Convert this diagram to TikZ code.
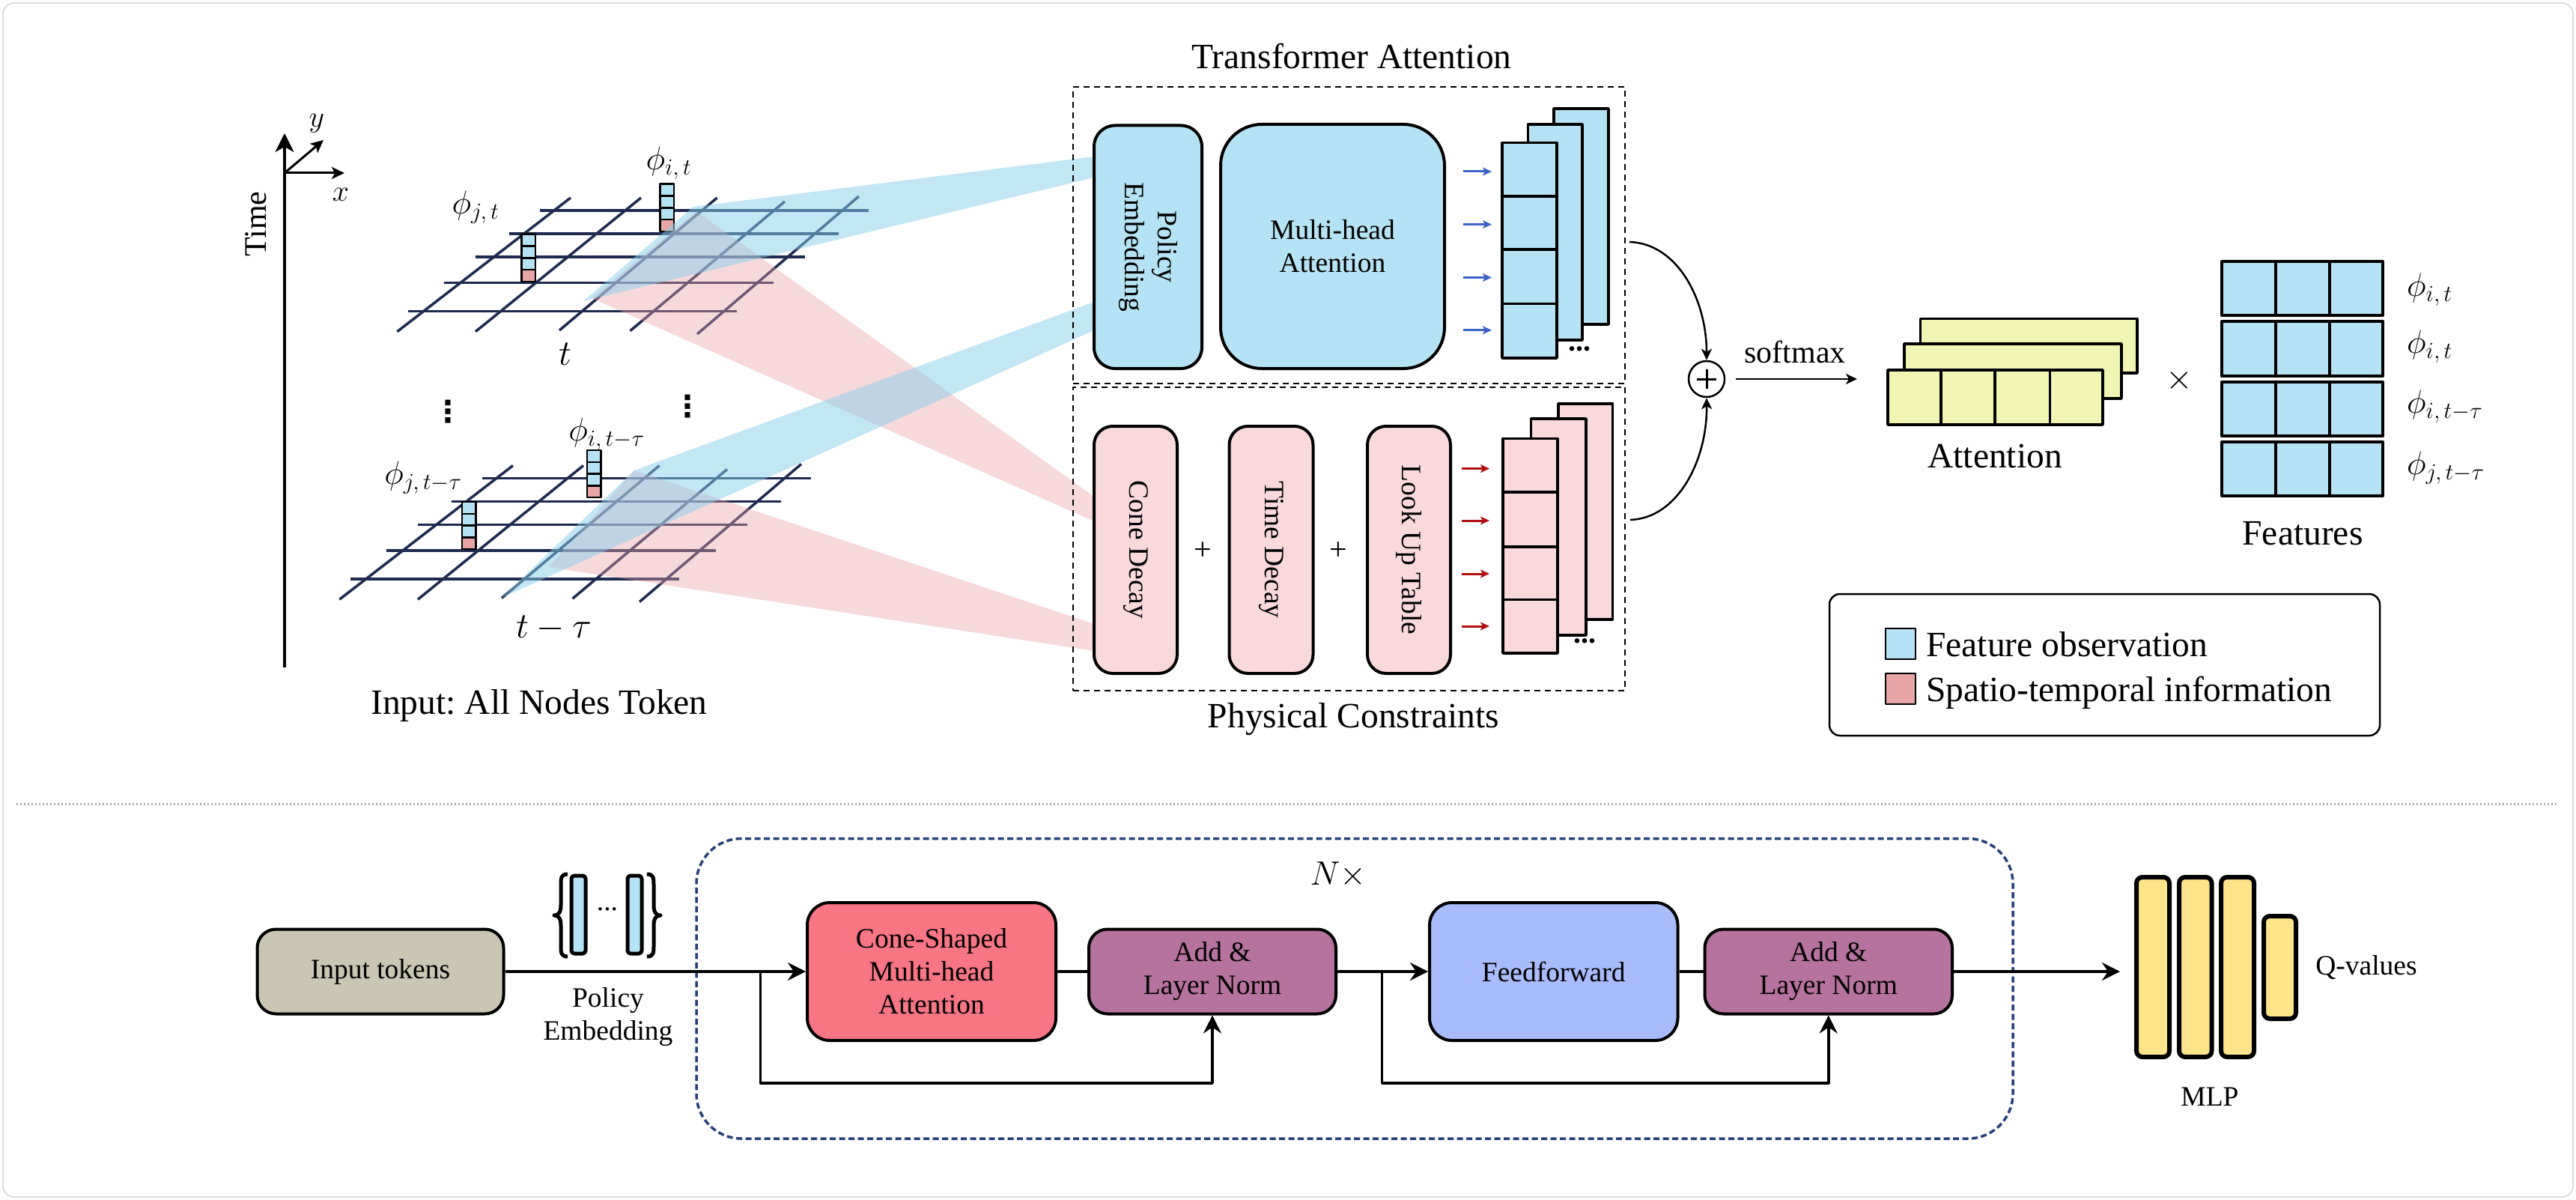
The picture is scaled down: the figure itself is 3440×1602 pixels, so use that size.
\RequirePackage{fix-cm}
\documentclass[tikz,border=0pt]{standalone}
\usepackage{fontspec}
\setmainfont{Liberation Serif}
\newfontfamily\djv{DejaVu Sans}
\usetikzlibrary{arrows.meta,calc}
\definecolor{lblue}{RGB}{181,226,244}
\definecolor{lpink}{RGB}{250,217,221}
\definecolor{tokred}{RGB}{232,165,165}
\definecolor{gridnavy}{RGB}{31,42,80}
\definecolor{attyel}{RGB}{240,245,180}
\definecolor{inpgray}{RGB}{201,199,179}
\definecolor{conered}{RGB}{248,117,131}
\definecolor{addpur}{RGB}{183,115,159}
\definecolor{ffblue}{RGB}{168,187,251}
\definecolor{mlpyel}{RGB}{253,227,138}
\definecolor{nxblue}{RGB}{39,64,122}
\definecolor{arrblue}{RGB}{59,99,199}
\definecolor{arrred}{RGB}{176,16,16}
\definecolor{beamblue}{RGB}{135,206,235}
\definecolor{beampink}{RGB}{234,160,168}
\definecolor{framegray}{RGB}{222,222,222}
\definecolor{sepgray}{RGB}{170,170,170}
\frenchspacing
\tikzset{
 txtL/.style={font=\fontsize{47.5pt}{56pt}\selectfont},
 txtM/.style={font=\fontsize{37.5pt}{44pt}\selectfont},
 txtS/.style={font=\fontsize{42pt}{50pt}\selectfont},
 mathlbl/.style={font=\fontsize{44pt}{50pt}\selectfont, inner sep=0pt},
 rbox/.style={draw, line width=4pt, inner sep=0pt, align=center, txtM},
 dbox/.style={draw, line width=2pt, dash pattern=on 8pt off 6pt, inner sep=0pt},
 gridl/.style={draw=gridnavy, line width=3.5pt},
 tokcell/.style={draw, line width=2.5pt},
 pline/.style={draw, line width=3.5pt},
 bigtip/.tip={Stealth[length=24pt,width=24pt,inset=8pt]},
 smtip/.tip={Stealth[length=15pt,width=14pt,inset=4pt]},
 axtip/.tip={Stealth[length=17pt,width=16pt,inset=4pt]},
 mainl/.style={line width=4pt},
 skipl/.style={line width=3.5pt},
 beamb/.style={fill=beamblue, fill opacity=.5},
 beamp/.style={fill=beampink, fill opacity=.4},
 mlpbar/.style={draw, line width=6pt, fill=mlpyel, rounded corners=8pt, inner sep=0pt},
 vdotl/.style={font=\fontsize{40pt}{44pt}\selectfont\djv\bfseries, inner sep=0pt},
}
\newcommand\mygrid{%
 \draw[gridl] (721,281) -- (1160,281);
 \draw[gridl] (680,312) -- (1120,312);
 \draw[gridl] (635,343) -- (1074.5,343);
 \draw[gridl] (593,377.3) -- (1032.6,377.3);
 \draw[gridl] (544.6,415.7) -- (983.5,415.7);
 \draw[gridl] (530.4,442.7) -- (762,264);
 \draw[gridl] (635,442.7) -- (856,264);
 \draw[gridl] (747,441) -- (957.6,264);
 \draw[gridl] (841.5,441.7) -- (1048,269);
 \draw[gridl] (931,446) -- (1147,262);}
\newcommand\mytok[2]{%
 \foreach \k in {0,1,2}{\draw[tokcell, fill=lblue] (#1,#2+\k*15.8) rectangle ++(18.5,15.8);}
 \draw[tokcell, fill=tokred] (#1,#2+47.4) rectangle ++(18.5,15.8);}
\begin{document}
\begin{tikzpicture}[x=1pt,y=-1pt,line join=round]
\useasboundingbox (0,0) rectangle (3440,1602);
\draw[framegray, line width=2pt, rounded corners=15pt] (4,4) rectangle (3436,1598);

% ---------- axes ----------
\coordinate (ax0) at (380,231);
\coordinate (axT) at (380,178);
\coordinate (axB) at (380,891);
\coordinate (axX) at (460,231);
\coordinate (axY) at (432,187);
\draw[line width=3.5pt, -{Stealth[length=25pt,width=25pt,inset=7pt]}] (axB) -- (axT);
\draw[line width=3pt, -axtip] (ax0) -- (axX);
\draw[line width=3pt, -axtip] (ax0) -- (axY);
\node[txtS, rotate=90] (timel) at (342,299) {Time};
\node[mathlbl, font=\fontsize{40pt}{50pt}\selectfont] (ylab) at (423,165) {$y$};
\node[mathlbl, font=\fontsize{40pt}{50pt}\selectfont] (xlab) at (455,260) {$x$};

% ---------- grids ----------
\mygrid
\mytok{696.4}{312.7}
\mytok{881.7}{245.7}
\begin{scope}[shift={(-77,357.5)}]
\mygrid
\end{scope}
\mytok{617}{670}
\mytok{784}{601}

% ---------- beams ----------
\fill[beamp] (790,398) -- (930,282) -- (1461,663) -- (1461,696) -- cycle;
\fill[beamp] (732,757) -- (847,628) -- (1461,833) -- (1461,869) -- cycle;
\fill[beamb] (779,402) -- (926,276) -- (1461,209) -- (1461,237) -- cycle;
\fill[beamb] (670,798) -- (847,628) -- (1461,403) -- (1461,441) -- cycle;

% ---------- grid labels ----------
\node[mathlbl] (pjt) at (635,277) {$\phi_{j,\,t}$};
\node[mathlbl] (pit) at (893,218) {$\phi_{i,\,t}$};
\node[mathlbl, font=\fontsize{48pt}{56pt}\selectfont] (tl) at (755,473) {$t$};
\node[vdotl] (vd1) at (598,550) {⋮};
\node[vdotl] (vd2) at (918,543) {⋮};
\node[mathlbl] (pjtt) at (565,638) {$\phi_{j,\,t-\tau}$};
\node[mathlbl] (pitt) at (810,580) {$\phi_{i,\,t-\tau}$};
\node[mathlbl, font=\fontsize{48pt}{56pt}\selectfont] (ttl) at (740,839) {$t-\tau$};
\node[txtL] (inpl) at (720,942) {Input: All Nodes Token};

% ---------- transformer attention ----------
\node[dbox, minimum width=737pt, minimum height=396pt] (ta) at (1801.5,314) {};
\node[dbox, minimum width=737pt, minimum height=405.5pt] (pc) at (1801.5,719.25) {};
\node[txtL] (tatitle) at (1805,75) {Transformer Attention};
\node[txtL] (pctitle) at (1807.5,960) {Physical Constraints};

\node[rbox, fill=lblue, rounded corners=28pt, minimum width=144pt, minimum height=324.5pt] (pe) at (1533,329.75) {};
\node[txtM, rotate=-90, align=center] (pel) at (pe.center) {Policy\\Embedding};
\node[rbox, fill=lblue, rounded corners=55pt, minimum width=299pt, minimum height=326pt] (mha) at (1779.5,329) {Multi-head\\Attention};

\draw[pline, fill=lblue] (2075,145) rectangle (2148,433);
\draw[pline, fill=lblue] (2040.5,166) rectangle (2113,454);
\draw[pline, fill=lblue] (2006,190.5) rectangle (2079,478);
\foreach \yy in {262,333,405.6} \draw[pline] (2006,\yy) -- (2079,\yy);
\foreach \yy in {229,299.6,370.5,440.8}
  \draw[arrblue, line width=3pt, -{Stealth[length=12pt,width=11pt,inset=3pt]}] (1954,\yy) -- (1992,\yy);
\node[txtM, font=\fontsize{40pt}{44pt}\selectfont\bfseries] (bdots) at (2109,466) {...};

\node[rbox, fill=lpink, rounded corners=25pt, minimum width=111pt, minimum height=330pt] (cone) at (1516.5,734) {};
\node[txtM, rotate=-90] (conel) at (cone.center) {Cone Decay};
\node[rbox, fill=lpink, rounded corners=25pt, minimum width=112pt, minimum height=330pt] (tdec) at (1697.5,734) {};
\node[txtM, rotate=-90] (tdecl) at (tdec.center) {Time Decay};
\node[rbox, fill=lpink, rounded corners=25pt, minimum width=111pt, minimum height=330pt] (lut) at (1881.5,734) {};
\node[txtM, rotate=-90] (lutl) at (lut.center) {Look Up Table};
\node[txtS] (plus1) at (1606.6,736) {+};
\node[txtS] (plus2) at (1787,736) {+};

\draw[pline, fill=lpink] (2081,539) rectangle (2153.6,827);
\draw[pline, fill=lpink] (2044.5,559) rectangle (2118,848);
\draw[pline, fill=lpink] (2007,585.6) rectangle (2080,872);
\foreach \yy in {657,730,800.7} \draw[pline] (2007,\yy) -- (2080,\yy);
\foreach \yy in {625.6,695,766,836}
  \draw[arrred, line width=3pt, -{Stealth[length=12pt,width=11pt,inset=3pt]}] (1951.5,\yy) -- (1989,\yy);
\node[txtM, font=\fontsize{40pt}{44pt}\selectfont\bfseries] (pdots) at (2116,856) {...};

% ---------- combine ----------
\node[circle, draw, line width=2.5pt, minimum size=48pt, inner sep=0pt] (oplus) at (2279,506) {};
\draw[line width=3pt] ($(oplus.center)+(-13,0)$) -- ($(oplus.center)+(13,0)$);
\draw[line width=3pt] ($(oplus.center)+(0,-13)$) -- ($(oplus.center)+(0,13)$);
\coordinate (c1) at (2176,323);
\coordinate (c2) at (2177,694);
\draw[line width=2.5pt, -smtip] (c1) .. controls (2240,325) and (2279,400) .. (oplus.north);
\draw[line width=2.5pt, -smtip] (c2) .. controls (2240,692) and (2280,615) .. (oplus.south);
\coordinate (smend) at (2480,506);
\draw[line width=2.5pt, -smtip, shorten <=14pt] (oplus.east) -- (smend);
\node[txtS] (smx) at (2397,470) {softmax};

% ---------- attention stack ----------
\draw[pline, fill=attyel] (2564.5,425.5) rectangle (2854,498);
\draw[pline, fill=attyel] (2543,459) rectangle (2833,532);
\draw[pline, fill=attyel] (2521,494) rectangle (2808,567);
\foreach \xx in {2592,2664,2737.5} \draw[pline] (\xx,494) -- (\xx,567);
\node[txtL] (attl) at (2664,609) {Attention};
\node[mathlbl, font=\fontsize{46pt}{50pt}\selectfont] (times) at (2910,508) {$\times$};

% ---------- features ----------
\foreach \ya/\yb in {349/421,429/502,510/582,590/662}{
  \draw[line width=4pt, fill=lblue] (2967,\ya) rectangle (3182,\yb);
  \draw[line width=4pt] (3039,\ya) -- (3039,\yb);
  \draw[line width=4pt] (3111,\ya) -- (3111,\yb);
}
\node[mathlbl, anchor=west] (f1) at (3214,387) {$\phi_{i,\,t}$};
\node[mathlbl, anchor=west] (f2) at (3214,463) {$\phi_{i,\,t}$};
\node[mathlbl, anchor=west] (f3) at (3214,543) {$\phi_{i,\,t-\tau}$};
\node[mathlbl, anchor=west] (f4) at (3214,625) {$\phi_{j,\,t-\tau}$};
\node[txtL] (featl) at (3075,712) {Features};

% ---------- legend ----------
\node[draw, line width=2.5pt, rounded corners=14pt, minimum width=735pt, minimum height=189pt, inner sep=0pt] (leg) at (2810.5,887.5) {};
\node[draw, line width=2.5pt, fill=lblue, minimum width=40pt, minimum height=41pt, inner sep=0pt] (sw1) at (2538,859.5) {};
\node[draw, line width=2.5pt, fill=tokred, minimum width=40pt, minimum height=41pt, inner sep=0pt] (sw2) at (2538,919.5) {};
\node[txtL, anchor=base west, inner sep=0pt] (lg1) at (2572,876) {Feature observation};
\node[txtL, anchor=base west, inner sep=0pt] (lg2) at (2572,936) {Spatio-temporal information};

% ---------- separator ----------
\draw[sepgray, line width=3pt, dash pattern=on 2pt off 3pt] (22,1073) -- (3417,1073);

% ---------- bottom pipeline ----------
\node[draw=nxblue, line width=3.5pt, dash pattern=on 8pt off 4.5pt, rounded corners=60pt, minimum width=1758pt, minimum height=400.5pt, inner sep=0pt] (nx) at (1809,1319.75) {};
\node[mathlbl, font=\fontsize{45pt}{50pt}\selectfont] (nxl) at (1787,1168) {$N\times$};

\node[rbox, fill=inpgray, rounded corners=25pt, minimum width=329pt, minimum height=113pt] (inp) at (508,1297) {Input tokens};
\node[rbox, fill=conered, rounded corners=30pt, minimum width=332pt, minimum height=184pt] (csa) at (1244,1297) {Cone-Shaped\\Multi-head\\Attention};
\node[rbox, fill=addpur, rounded corners=25pt, minimum width=330pt, minimum height=113pt] (an1) at (1619,1297) {Add \&\\Layer Norm};
\node[rbox, fill=ffblue, rounded corners=30pt, minimum width=331.5pt, minimum height=184pt] (ff) at (2074.75,1297) {Feedforward};
\node[rbox, fill=addpur, rounded corners=25pt, minimum width=330.5pt, minimum height=113pt] (an2) at (2441.75,1297) {Add \&\\Layer Norm};

\node[mlpbar, minimum width=44pt, minimum height=240pt] (mlp1) at (2875,1291) {};
\node[mlpbar, minimum width=43.5pt, minimum height=240pt] (mlp2) at (2931.75,1291) {};
\node[mlpbar, minimum width=44pt, minimum height=240pt] (mlp3) at (2988,1291) {};
\node[mlpbar, minimum width=43pt, minimum height=137pt] (mlp4) at (3044.5,1291.5) {};
\node[txtM] (mlpl) at (2951,1464) {MLP};
\node[txtM] (qv) at (3160,1292) {Q-values};

% policy embedding tokens
\draw[line width=5pt] (758,1167) .. controls (749,1167) and (749,1172) .. (749,1182) -- (749,1208)
  .. controls (749,1218) and (746,1222) .. (740,1222) .. controls (746,1222) and (749,1226) .. (749,1236)
  -- (749,1262) .. controls (749,1272) and (749,1277) .. (758,1277);
\draw[line width=5pt] (864,1167) .. controls (873,1167) and (873,1172) .. (873,1182) -- (873,1208)
  .. controls (873,1218) and (876,1222) .. (882,1222) .. controls (876,1222) and (873,1226) .. (873,1236)
  -- (873,1262) .. controls (873,1272) and (873,1277) .. (864,1277);
\node[draw, line width=5pt, fill=lblue, rounded corners=4pt, minimum width=19pt, minimum height=104pt, inner sep=0pt] (tk1) at (772.5,1221) {};
\node[draw, line width=5pt, fill=lblue, rounded corners=4pt, minimum width=19pt, minimum height=104pt, inner sep=0pt] (tk2) at (847.5,1221) {};
\node[txtM] (tkd) at (811,1214) {...};
\node[txtM, align=center] (pel2) at (812,1358) {Policy\\Embedding};

% connectors
\draw[mainl, -bigtip] (inp.east) -- (csa.west);
\draw[mainl] (csa.east) -- (an1.west);
\draw[mainl, -bigtip] (an1.east) -- (ff.west);
\draw[mainl] (ff.east) -- (an2.west);
\draw[mainl, -bigtip, shorten >=19pt] (an2.east) -- (an2.east -| mlp1.west);
\coordinate (s1) at (1015.5,1297);
\coordinate (s2) at (1845.7,1297);
\draw[skipl, -bigtip] (s1) -- ++(0,149) -| (an1.south);
\draw[skipl, -bigtip] (s2) -- ++(0,149) -| (an2.south);
\end{tikzpicture}
\end{document}
